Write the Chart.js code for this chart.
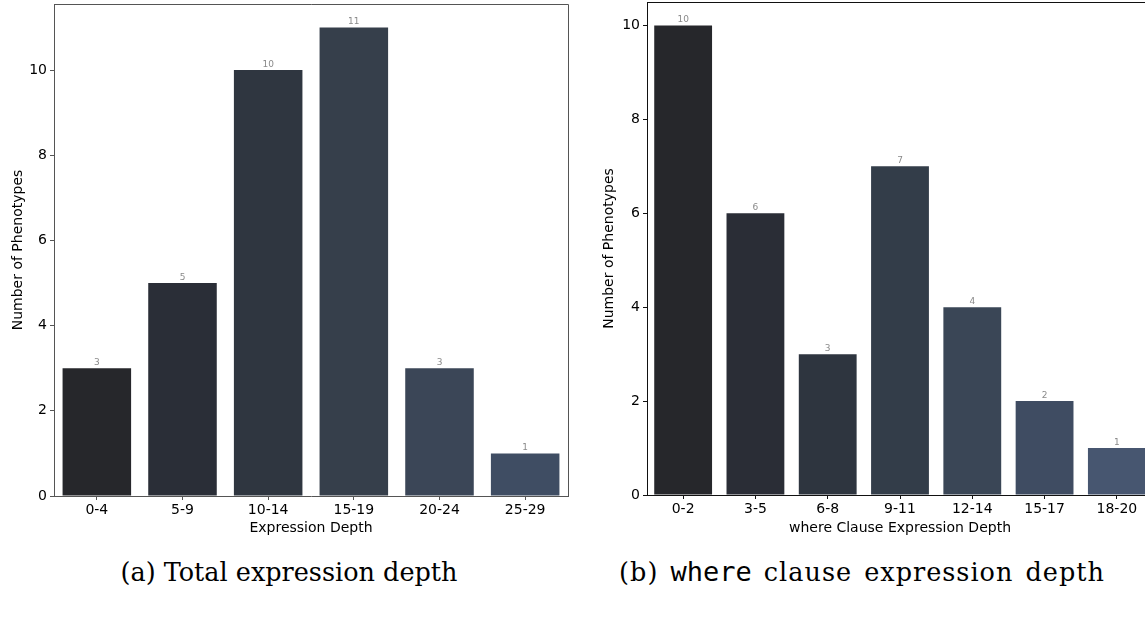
<!DOCTYPE html>
<html lang="en">
<head>
<meta charset="UTF-8">
<title>Expression depth of phenotypes</title>
<script src="https://cdn.jsdelivr.net/npm/chart.js"></script>
<style>
  body {
    margin: 0;
    width: 1145px;
    height: 617px;
    overflow: hidden;
    background: #fff;
    position: relative;
  }
  .panel { position: absolute; top: 0; }
  .caption {
    position: absolute;
    top: 557px;
    line-height: 30px;
    font-family: "DejaVu Serif", serif;
    font-size: 25.5px;
    color: #000;
    white-space: nowrap;
    transform: translateX(-50%);
  }
  .caption.wide { letter-spacing: 1px; word-spacing: 3px; }
  .caption code { font-family: "DejaVu Sans Mono", monospace; font-size: 27px; letter-spacing: 0; }
</style>
</head>
<body>
<canvas id="totalChart" class="panel" width="580" height="545" style="left:0px"></canvas>
<canvas id="whereChart" class="panel" width="575" height="545" style="left:590px"></canvas>
<div class="caption" style="left:289px">(a) Total expression depth</div>
<div class="caption wide" style="left:862px">(b) <code>where</code> clause expression depth</div>

<script>
  // depth bins and phenotype counts
  const totalLabels = ["0-4", "5-9", "10-14", "15-19", "20-24", "25-29"];
  const totalCounts = [3, 5, 10, 11, 3, 1];

  const whereLabels = ["0-2", "3-5", "6-8", "9-11", "12-14", "15-17", "18-20"];
  const whereCounts = [10, 6, 3, 7, 4, 2, 1];

  // dark-to-slate palettes
  const totalColors = ["#26272b", "#2a2e37", "#2f3640", "#363f4b", "#3b4657", "#3f4d63"];
  const whereColors = ["#26272b", "#2a2d36", "#2e353f", "#333d49", "#3a4656", "#3f4c62", "#475670"];

  const tickFont = { family: "'DejaVu Sans', sans-serif", size: 14 };

  // count printed above each bar
  const valueLabels = {
    id: "valueLabels",
    afterDatasetsDraw(chart) {
      const ctx = chart.ctx;
      const values = chart.data.datasets[0].data;
      ctx.save();
      ctx.font = "9px 'DejaVu Sans', sans-serif";
      ctx.fillStyle = "#8a8a8a";
      ctx.textAlign = "center";
      ctx.textBaseline = "alphabetic";
      chart.getDatasetMeta(0).data.forEach((bar, i) => {
        ctx.fillText(String(values[i]), bar.x, bar.y - 3);
      });
      ctx.restore();
    }
  };

  // close the box on top and right
  const frame = {
    id: "frame",
    afterDraw(chart, args, opts) {
      const { left, right, top, bottom } = chart.chartArea;
      const ctx = chart.ctx;
      ctx.save();
      ctx.strokeStyle = opts.color;
      ctx.lineWidth = 1;
      ctx.beginPath();
      ctx.moveTo(left, Math.round(top) + 0.5);
      ctx.lineTo(Math.round(right) + 0.5, Math.round(top) + 0.5);
      ctx.lineTo(Math.round(right) + 0.5, bottom);
      ctx.stroke();
      ctx.restore();
    }
  };

  function makeChart(id, labels, counts, colors, xTitle, yMax, box) {
    return new Chart(document.getElementById(id), {
      type: "bar",
      data: {
        labels: labels,
        datasets: [{
          data: counts,
          backgroundColor: colors,
          borderWidth: 0,
          categoryPercentage: 0.8,
          barPercentage: 1.0
        }]
      },
      options: {
        responsive: false,
        animation: false,
        layout: { padding: { top: box.padTop, right: box.padRight, left: 0, bottom: 0 } },
        plugins: {
          legend: { display: false },
          tooltip: { enabled: false },
          frame: { color: box.line }
        },
        scales: {
          x: {
            offset: true,
            afterFit(scale) {
              scale.height = box.axisHeight;
              scale.paddingLeft = 0;
              scale.paddingRight = 0;
            },
            ticks: { color: "#000", font: tickFont, padding: 2, maxRotation: 0, autoSkip: false },
            grid: { offset: false, drawOnChartArea: false, tickLength: 4, color: box.line },
            border: { display: true, color: box.line, width: 1 },
            title: {
              display: true,
              text: xTitle,
              color: "#000",
              font: tickFont,
              padding: { top: 0, bottom: 8 }
            }
          },
          y: {
            min: 0,
            max: yMax,
            afterFit(scale) {
              scale.width = box.axisWidth;
              scale.paddingTop = 0;
              scale.paddingBottom = 0;
            },
            ticks: { stepSize: 2, includeBounds: false, color: "#000", font: tickFont, padding: 3 },
            grid: { drawOnChartArea: false, tickLength: 4, color: box.line },
            border: { display: true, color: box.line, width: 1 },
            title: {
              display: true,
              text: "Number of Phenotypes",
              color: "#000",
              font: tickFont,
              padding: { top: box.titlePad, bottom: 0 }
            }
          }
        }
      },
      plugins: [valueLabels, frame]
    });
  }

  makeChart("totalChart", totalLabels, totalCounts, totalColors, "Expression Depth", 11.55,
    { padTop: 4, padRight: 12, axisWidth: 54, axisHeight: 49, titlePad: 10, line: "#555" });

  makeChart("whereChart", whereLabels, whereCounts, whereColors, "where Clause Expression Depth", 10.5,
    { padTop: 2, padRight: 12, axisWidth: 57, axisHeight: 50, titlePad: 11, line: "#111" });
</script>
</body>
</html>
